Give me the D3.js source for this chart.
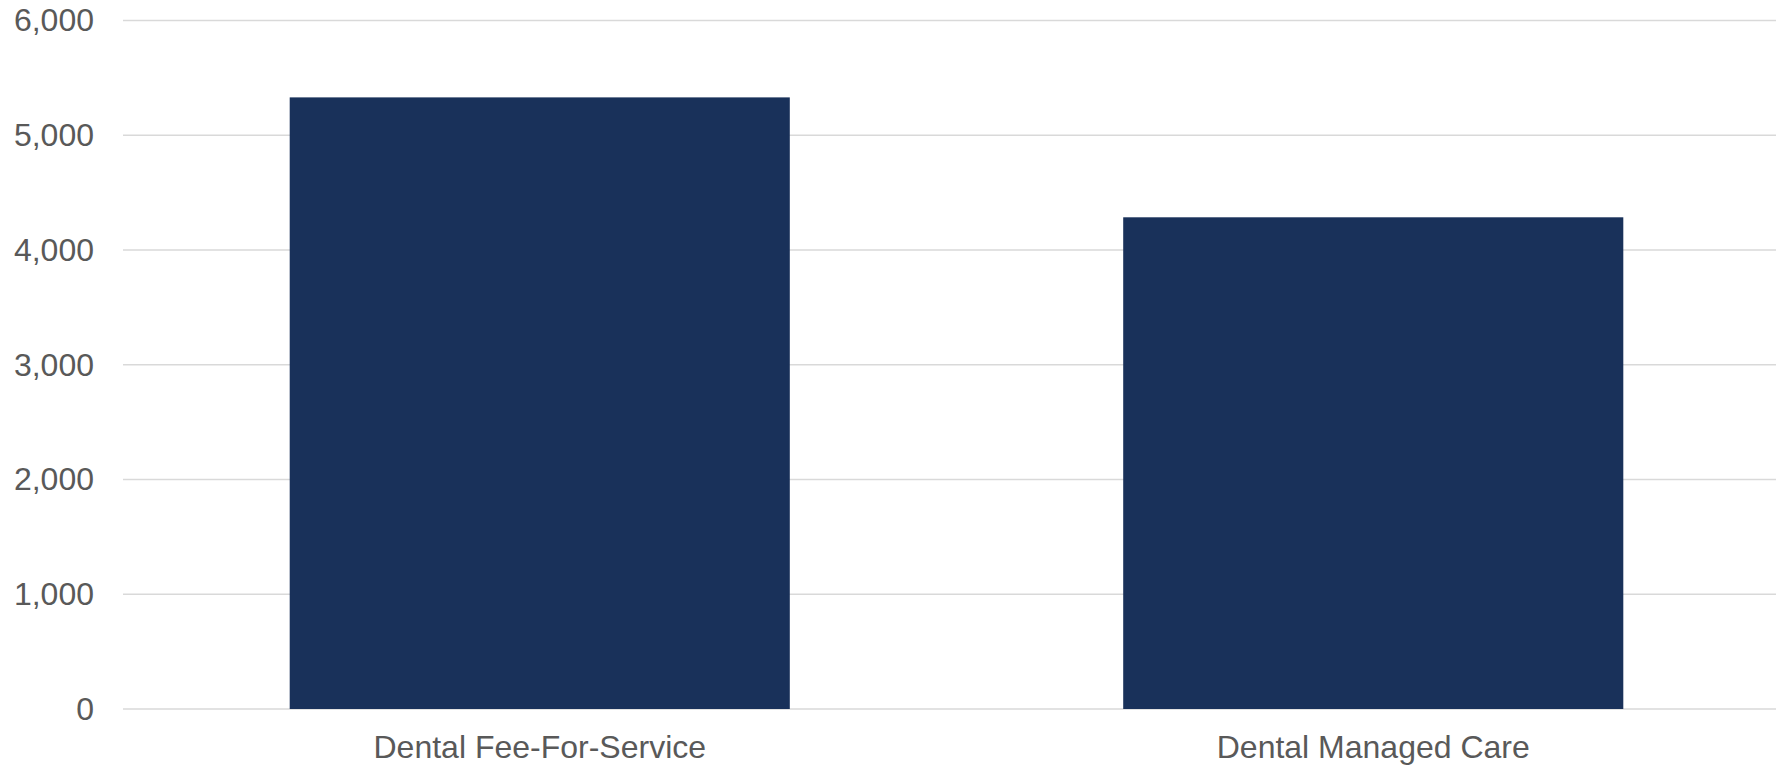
<!DOCTYPE html>
<html>
<head>
<meta charset="utf-8">
<script src="https://cdn.jsdelivr.net/npm/d3@7"></script>
<style>
  html, body { margin: 0; padding: 0; background: #ffffff; }
  svg { display: block; }
</style>
</head>
<body>
<svg id="chart" width="1776" height="766"></svg>
<script>
const categories = ["Dental Fee-For-Service", "Dental Managed Care"];
const values = [5330, 4285];
const yTicks = [0, 1000, 2000, 3000, 4000, 5000, 6000];

(function () {
const svg = d3.select("#chart");
const W = 1776, H = 766;
const plotLeft = 123;
const bandLeft = 123, bandRight = 1790;
const plotTop = 20.5, plotBottom = 709;

const x = d3.scaleBand()
  .domain(categories)
  .range([bandLeft, bandRight])
  .paddingInner(0.4)
  .paddingOuter(0.2);

const y = d3.scaleLinear()
  .domain([0, 6000])
  .range([plotBottom, plotTop]);

const fmt = d3.format(",");

// gridlines
svg.append("g")
  .selectAll("line")
  .data(yTicks)
  .join("line")
  .attr("x1", plotLeft)
  .attr("x2", W)
  .attr("y1", d => y(d))
  .attr("y2", d => y(d))
  .attr("stroke", "#d9d9d9")
  .attr("stroke-width", 1.5);

// bars
svg.append("g")
  .selectAll("rect")
  .data(categories)
  .join("rect")
  .attr("x", d => x(d))
  .attr("width", x.bandwidth())
  .attr("y", (d, i) => y(values[i]))
  .attr("height", (d, i) => y(0) - y(values[i]))
  .attr("fill", "#19315a");

// y axis labels
const yAxis = d3.axisLeft(y).tickValues(yTicks).tickFormat(fmt).tickSize(0).tickPadding(0);
const yg = svg.append("g").attr("transform", `translate(94,0)`).call(yAxis);
yg.select(".domain").remove();
yg.selectAll("text")
  .attr("font-family", "Liberation Sans, Arial, sans-serif")
  .attr("font-size", 32)
  .attr("fill", "#595959");

// x axis labels
const xAxis = d3.axisBottom(x).tickSize(0).tickPadding(0);
const xg = svg.append("g").attr("transform", `translate(0,${y(0)})`).call(xAxis);
xg.select(".domain").remove();
xg.selectAll("text")
  .attr("dy", null)
  .attr("y", 49)
  .attr("font-family", "Liberation Sans, Arial, sans-serif")
  .attr("font-size", 32)
  .attr("fill", "#595959");
})();
</script>
</body>
</html>
